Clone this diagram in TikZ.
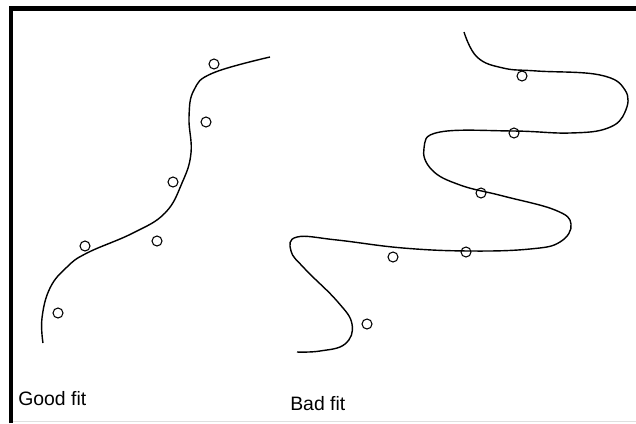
\documentclass[tikz,border=0pt]{standalone}
\usepackage{fontspec}
\setmainfont{Liberation Sans}
\usetikzlibrary{calc,positioning}

\tikzset{
  sample/.style={circle,draw,line width=0.75pt,inner sep=0pt,minimum size=0.25cm},
  fitcurve/.style={line width=1pt,smooth,tension=0.7},
  caption/.style={anchor=base west,inner sep=0pt,font=\fontsize{13.8}{16}\selectfont}
}

\begin{document}
\begin{tikzpicture}[x=0.025cm,y=-0.025cm]
  \useasboundingbox (0,0) rectangle (636,423);
  \fill[white] (0,0) rectangle (636,423);
  \draw[gray!25,line width=0.4pt] (11,421.5) -- (636,421.5);
  \draw[line width=2.9pt] (11,423) -- (11,8.5) -- (636,8.5);

  \draw[fitcurve] plot coordinates {(43,343) (42,318) (50,288) (67,267) (87,253)
    (133,233) (165,213) (182,183) (191,153) (189,117) (194,90) (213,73) (270,57)};

  \node[sample] (g1) at (58,313) {};
  \node[sample] (g2) at (85,246) {};
  \node[sample] (g3) at (157,241) {};
  \node[sample] (g4) at (173,182) {};
  \node[sample] (g5) at (206,122) {};
  \node[sample] (g6) at (214,64) {};

  \draw[fitcurve] plot coordinates {(464,32) (477,57) (503,68) (537,71) (600,75)
    (625,90) (625,112) (608,128) (570,133) (513,131) (440,132) (424,148)
    (432,170) (460,185) (503,196) (555,210) (571,224) (560,242) (530,249)
    (470,251) (403,248) (337,240) (297,237) (291,251) (305,269) (337,301)
    (352,324) (345,344) (320,351) (297,352)};

  \node[sample] (b1) at (522,76) {};
  \node[sample] (b2) at (514,133) {};
  \node[sample] (b3) at (481,193) {};
  \node[sample] (b4) at (466,252) {};
  \node[sample] (b5) at (393,257) {};
  \node[sample] (b6) at (367,324) {};

  \node[caption] (good) at (18,405) {Good fit};
  \node[caption] (bad) at (290,410) {Bad fit};
\end{tikzpicture}
\end{document}
